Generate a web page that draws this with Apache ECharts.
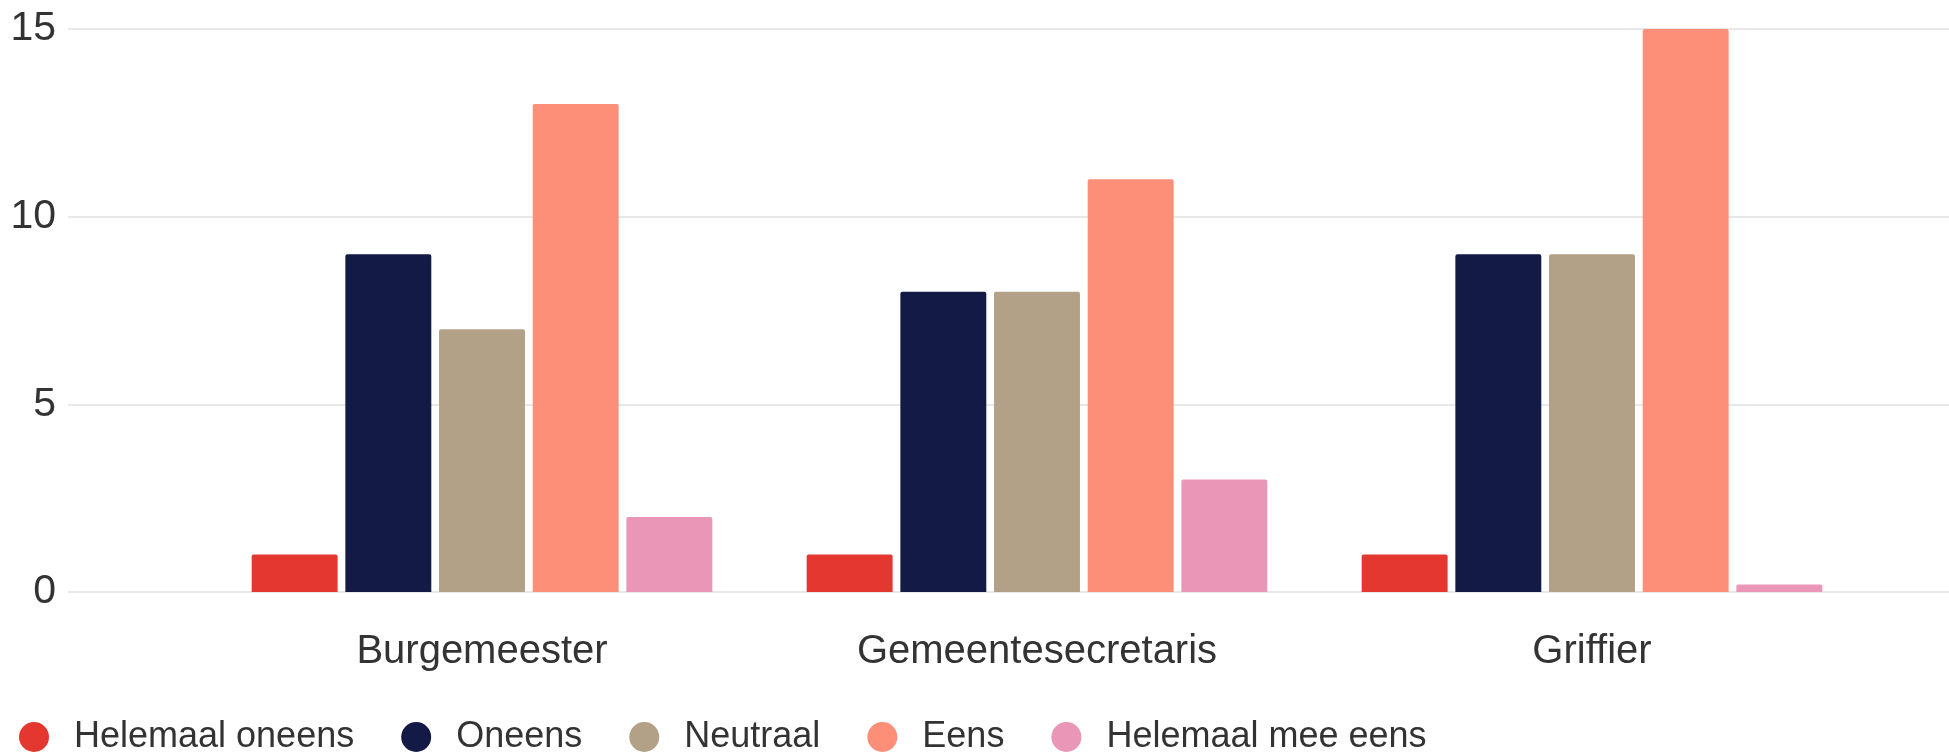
<!DOCTYPE html>
<html><head><meta charset="utf-8">
<script src="https://cdn.jsdelivr.net/npm/echarts@6/dist/echarts.min.js"></script>
<style>html,body{margin:0;padding:0;background:#fff}#c{width:1949px;height:753px}</style>
</head><body><div id="c"></div>
<script>
const categories = ['Burgemeester', 'Gemeentesecretaris', 'Griffier'];
const seriesNames = ['Helemaal oneens', 'Oneens', 'Neutraal', 'Eens', 'Helemaal mee eens'];
const helemaalOneens = [1, 1, 1];
const oneens = [9, 8, 9];
const neutraal = [7, 8, 9];
const eens = [13, 11, 15];
const helemaalMeeEens = [2, 3, 0.2];
const yTicks = [0, 5, 10, 15];
const colors = ['#e3372f', '#121a45', '#b3a187', '#fd8f79', '#e996b7'];

const values = [helemaalOneens, oneens, neutraal, eens, helemaalMeeEens];
const font = '"Liberation Sans", Arial, sans-serif';
const chart = echarts.init(document.getElementById('c'));
chart.setOption({
  animation: false,
  color: colors,
  grid: [
    {left: 68, right: 0, top: 29, bottom: 161},
    {left: 204.5, right: 79.5, top: 29, bottom: 161}
  ],
  xAxis: [
    {gridIndex: 0, type: 'value', show: false, min: 0, max: 1},
    {gridIndex: 1, type: 'category', data: categories,
     axisLine: {show: false}, axisTick: {show: false},
     axisLabel: {color: '#333', fontSize: 40, fontFamily: font, margin: 40}}
  ],
  yAxis: [
    {gridIndex: 0, type: 'value', min: yTicks[0], max: yTicks[yTicks.length - 1], interval: 5,
     axisLine: {show: false}, axisTick: {show: false},
     axisLabel: {color: '#333', fontSize: 41, fontFamily: font, margin: 12},
     splitLine: {lineStyle: {color: '#e8e8e8', width: 2}}},
    {gridIndex: 1, type: 'value', min: 0, max: 15, show: false, splitLine: {show: false}}
  ],
  legend: {
    left: 19, top: 719, padding: 0, icon: 'circle',
    itemWidth: 30, itemHeight: 30, itemGap: 47,
    data: seriesNames,
    textStyle: {color: '#333', fontSize: 36, fontFamily: font, padding: [0, 0, 0, 20]}
  },
  series: seriesNames.map((n, i) => ({
    name: n, type: 'bar', xAxisIndex: 1, yAxisIndex: 1,
    data: values[i], barGap: '9%', barCategoryGap: '17%',
    itemStyle: {borderRadius: [2, 2, 0, 0]}
  }))
});
</script></body></html>
